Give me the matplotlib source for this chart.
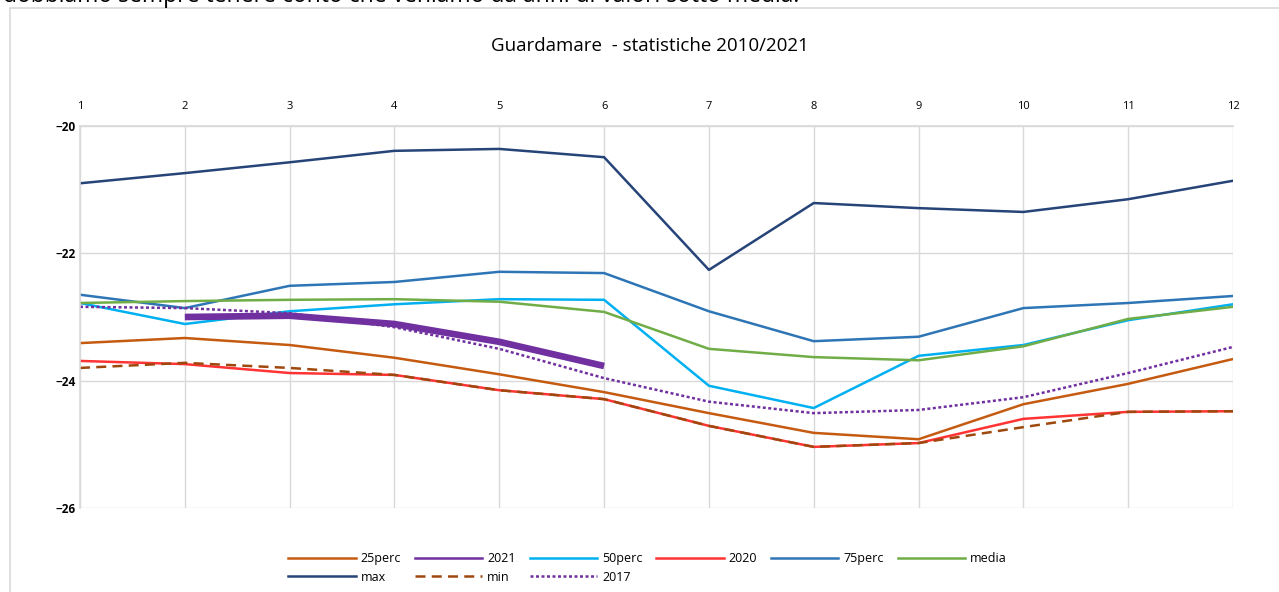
import matplotlib
matplotlib.use('Agg')
import matplotlib.pyplot as plt
from matplotlib.patches import Rectangle
from matplotlib.lines import Line2D

plt.rcParams['font.family'] = ['Open Sans', 'DejaVu Sans']

months = list(range(1, 13))

# values
perc25 = [-23.41, -23.33, -23.44, -23.64, -23.90, -24.18, -24.51, -24.82, -24.92, -24.37, -24.05, -23.66]
y2021 = [None, -23.00, -22.98, -23.11, -23.39, -23.77]
perc50 = [-22.78, -23.11, -22.91, -22.80, -22.72, -22.73, -24.08, -24.43, -23.61, -23.44, -23.05, -22.80]
y2020 = [-23.69, -23.74, -23.88, -23.91, -24.15, -24.29, -24.71, -25.04, -24.98, -24.60, -24.49, -24.48]
perc75 = [-22.65, -22.86, -22.51, -22.45, -22.29, -22.31, -22.91, -23.38, -23.31, -22.86, -22.78, -22.67]
media = [-22.78, -22.75, -22.73, -22.72, -22.76, -22.92, -23.50, -23.63, -23.68, -23.46, -23.03, -22.84]
vmax = [-20.90, -20.74, -20.57, -20.39, -20.36, -20.49, -22.26, -21.21, -21.29, -21.35, -21.15, -20.86]
vmin = [-23.80, -23.72, -23.80, -23.91, -24.15, -24.29, -24.71, -25.04, -24.98, -24.73, -24.49, -24.48]
y2017 = [-22.84, -22.86, -22.94, -23.16, -23.50, -23.96, -24.33, -24.51, -24.46, -24.26, -23.88, -23.47]

fig = plt.figure(figsize=(12.79, 5.92), dpi=100)

# chart frame (cut off like in the screenshot)
fig.patches.append(Rectangle((10 / 1279, -0.1), 1.2, 1.1 - 8 / 592,
                             transform=fig.transFigure, fill=False,
                             edgecolor='#D9D9D9', linewidth=1.2))
# sentence above the chart, only its lower edge is visible
fig.text(0.002, 1 - 2 / 592, "dobbiamo sempre tenere conto che veniamo da anni di valori sotto media.",
         fontsize=16.5, va='baseline', ha='left', color='black')

ax = fig.add_axes([80 / 1279, 84 / 592, (1233 - 80) / 1279, (508 - 126) / 592])

lw = 1.8
ax.plot(months, perc25, color='#C55A11', lw=lw, label='25perc')
ax.plot(months[:6], y2021, color='#7030A0', lw=4.8, label='2021', solid_capstyle='butt', zorder=5)
ax.plot(months, perc50, color='#00B0F0', lw=lw, label='50perc')
ax.plot(months, y2020, color='#FF3333', lw=lw, label='2020')
ax.plot(months, perc75, color='#2E75B6', lw=lw, label='75perc')
ax.plot(months, media, color='#70AD47', lw=lw, label='media')
ax.plot(months, vmax, color='#264478', lw=lw, label='max')
ax.plot(months, vmin, color='#9E480E', lw=lw, ls=(0, (4, 2.5)), label='min')
ax.plot(months, y2017, color='#7030A0', lw=lw, ls=(0, (1.2, 1.0)), label='2017')

ax.set_xlim(1, 12)
ax.set_ylim(-26, -20)
ax.set_xticks(months)
ax.set_yticks([-26, -24, -22, -20])
ax.xaxis.tick_top()
ax.tick_params(axis='x', length=0, pad=10, labelsize=8)
ax.tick_params(axis='y', length=0, pad=3, labelsize=8.5)
for lab in ax.get_yticklabels():
    lab.set_fontweight('bold')
ax.grid(True, color='#D9D9D9', lw=1)
for side in ['right', 'bottom']:
    ax.spines[side].set_visible(False)
for side in ['top', 'left']:
    ax.spines[side].set_color('#D9D9D9')
    ax.spines[side].set_linewidth(1.2)

fig.text(0.508, 1 - 46 / 592, "Guardamare  - statistiche 2010/2021", fontsize=13.5,
         ha='center', va='center')

handles, labels = ax.get_legend_handles_labels()
# legend shows the 2021 line with normal width
handles[1] = Line2D([], [], color='#7030A0', lw=lw)
order = [0, 6, 1, 7, 2, 8, 3, 4, 5]
fig.legend([handles[i] for i in order], [labels[i] for i in order],
           loc='center', bbox_to_anchor=(0.5063, 1 - 568 / 592), ncol=6, frameon=False,
           fontsize=9, handlelength=5.4, handletextpad=0.4, columnspacing=1.1,
           labelspacing=0.45, borderpad=0, borderaxespad=0)

fig.savefig('out.png', dpi=100)
